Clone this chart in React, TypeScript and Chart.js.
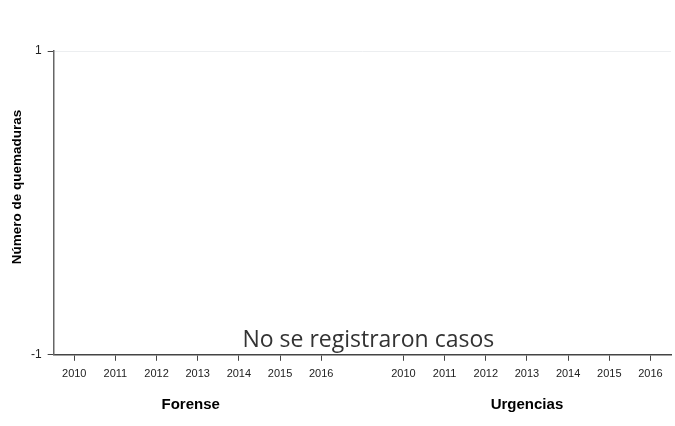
import React, { useEffect, useRef } from "react";
import { Chart, registerables } from "chart.js";

Chart.register(...registerables);

const years = ["2010", "2011", "2012", "2013", "2014", "2015", "2016"];
const groupNames = ["Forense", "Urgencias"];
const forenseValues: (number | null)[] = [null, null, null, null, null, null, null];
const urgenciasValues: (number | null)[] = [null, null, null, null, null, null, null];
const yTicks = [-1, 1];
const yTitle = "Número de quemaduras";
const emptyMessage = "No se registraron casos";

const labels = [...years, "", ...years];
const allValues = [...forenseValues, null, ...urgenciasValues];

const overlayPlugin = {
  id: "overlayText",
  afterDraw(chart: any) {
    const { ctx, scales, chartArea } = chart;
    const x = scales.x;
    ctx.save();
    ctx.fillStyle = "#000";
    ctx.font = "bold 15px 'Liberation Sans', Arial, sans-serif";
    ctx.textAlign = "center";
    ctx.textBaseline = "middle";
    const g1 = (x.getPixelForValue(0) + x.getPixelForValue(6)) / 2 - 7;
    const g2 = (x.getPixelForValue(8) + x.getPixelForValue(14)) / 2;
    ctx.fillText(groupNames[0], g1, 405);
    ctx.fillText(groupNames[1], g2, 405);
    ctx.font = "23px 'Open Sans', sans-serif";
    ctx.fillStyle = "#333";
    ctx.fillText(emptyMessage, x.getPixelForValue(7) + 6, chartArea.bottom - 14);
    // y axis title
    ctx.save();
    ctx.translate(17, (chartArea.top + chartArea.bottom) / 2 - 16);
    ctx.rotate(-Math.PI / 2);
    ctx.font = "bold 13.5px 'Liberation Sans', Arial, sans-serif";
    ctx.fillStyle = "#000";
    ctx.fillText(yTitle, 0, 0);
    ctx.restore();
    ctx.restore();
  },
};

export default function App() {
  const ref = useRef<HTMLCanvasElement | null>(null);
  useEffect(() => {
    if (!ref.current) return;
    const chart = new Chart(ref.current, {
      type: "line",
      data: {
        labels,
        datasets: [
          {
            label: "Casos",
            data: allValues,
            borderColor: "#1f77b4",
            pointRadius: 0,
          },
        ],
      },
      options: {
        animation: false,
        responsive: false,
        maintainAspectRatio: false,
        plugins: { legend: { display: false }, tooltip: { enabled: false } },
        layout: { padding: { top: 51, right: 4, bottom: 38, left: 25 } },
        scales: {
          x: {
            type: "category",
            offset: true,
            border: { display: true, color: "#444", width: 1.5 },
            grid: {
              offset: false,
              drawOnChartArea: false,
              drawTicks: true,
              tickLength: 6,
              tickColor: (c: any) => (labels[c.index] === "" ? "rgba(0,0,0,0)" : "#444"),
            },
            ticks: {
              autoSkip: false,
              maxRotation: 0,
              color: "#222",
              padding: 7,
              font: { size: 11, family: "'Liberation Sans', Arial, sans-serif" },
            },
          },
          y: {
            min: -1,
            max: 1,
            afterBuildTicks: (s: any) => {
              s.ticks = yTicks.map((v) => ({ value: v }));
            },
            border: { display: true, color: "#666", width: 1.5 },
            grid: {
              color: (c: any) => (c.tick && c.tick.value === 1 ? "#eceef0" : "rgba(0,0,0,0)"),
              tickColor: "#444",
              tickLength: 6,
              drawTicks: true,
            },
            ticks: {
              color: "#222",
              padding: 6,
              font: { size: 12, family: "'Liberation Sans', Arial, sans-serif" },
            },
          },
        },
      },
      plugins: [overlayPlugin],
    } as any);
    return () => chart.destroy();
  }, []);
  return (
    <div style={{ position: "fixed", left: 0, top: 0, width: 675, height: 426, background: "#fff" }}>
      <canvas ref={ref} width={675} height={426} style={{ width: 675, height: 426 }} />
    </div>
  );
}
